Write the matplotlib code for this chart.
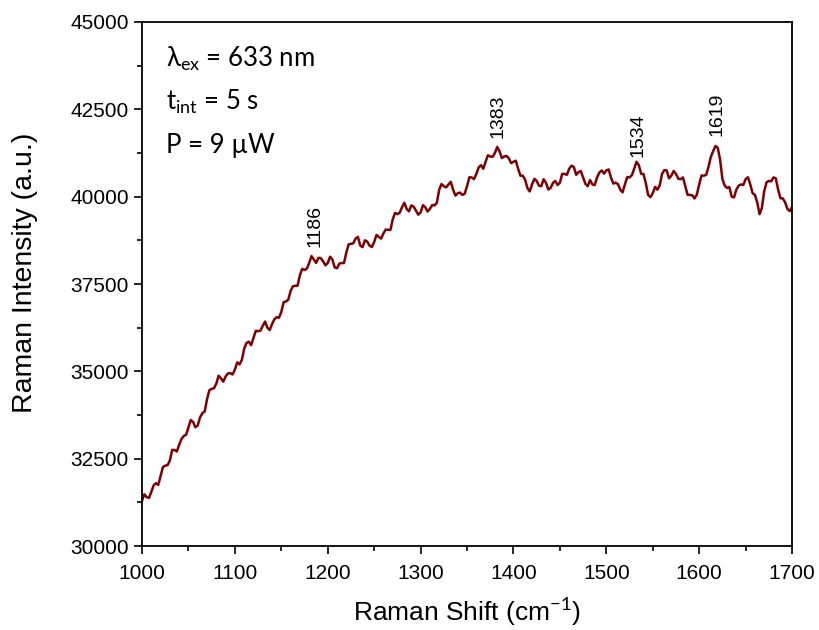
import numpy as np
import matplotlib.pyplot as plt
from matplotlib.ticker import MultipleLocator

# Raman spectrum, every 2.5 cm-1 from 1000 to 1700
shift = np.linspace(1000, 1700, 281)
intensity = [
    31300, 31480, 31400, 31375, 31550, 31735, 31800, 31750, 32000, 32260,
    32300, 32315, 32450, 32750, 32750, 32705, 32900, 33065, 33150, 33185,
    33400, 33605, 33550, 33400, 33450, 33685, 33800, 33850, 34200, 34460,
    34500, 34515, 34650, 34875, 34800, 34705, 34850, 34940, 34950, 34910,
    35050, 35255, 35200, 35325, 35650, 35810, 35850, 35750, 35950, 36160,
    36150, 36165, 36300, 36425, 36250, 36180, 36350, 36490, 36550, 36535,
    36700, 36980, 37000, 37050, 37300, 37435, 37450, 37450, 37750, 37935,
    37900, 37940, 38100, 38300, 38200, 38105, 38250, 38240, 38150, 38035,
    38100, 38280, 38200, 37975, 37950, 38085, 38100, 38100, 38400, 38635,
    38650, 38665, 38800, 38850, 38600, 38555, 38750, 38715, 38600, 38560,
    38700, 38905, 38850, 38800, 38950, 39060, 39050, 39050, 39350, 39535,
    39500, 39540, 39700, 39825, 39650, 39580, 39750, 39715, 39600, 39485,
    39550, 39755, 39700, 39575, 39650, 39760, 39750, 39825, 40200, 40360,
    40300, 40265, 40350, 40425, 40200, 40030, 40100, 40115, 40050, 40085,
    40300, 40555, 40550, 40500, 40650, 40835, 40900, 40800, 41000, 41185,
    41150, 41140, 41250, 41425, 41300, 41105, 41150, 41165, 41100, 40960,
    41000, 41030, 40800, 40600, 40600, 40485, 40250, 40150, 40350, 40510,
    40450, 40315, 40300, 40500, 40400, 40205, 40250, 40390, 40450, 40335,
    40400, 40655, 40650, 40625, 40800, 40885, 40850, 40625, 40700, 40735,
    40550, 40365, 40300, 40475, 40350, 40330, 40550, 40690, 40750, 40660,
    40750, 40780, 40550, 40375, 40400, 40360, 40200, 40125, 40350, 40560,
    40550, 40615, 40800, 41000, 40900, 40655, 40650, 40390, 40050, 39985,
    40100, 40280, 40200, 40325, 40650, 40760, 40750, 40525, 40600, 40735,
    40650, 40515, 40500, 40550, 40300, 40055, 40050, 40040, 39950, 40060,
    40350, 40605, 40600, 40625, 40850, 41135, 41300, 41450, 41400, 41060,
    40500, 40315, 40250, 40275, 40000, 39980, 40200, 40315, 40350, 40335,
    40500, 40555, 40350, 40100, 40050, 39835, 39500, 39675, 40150, 40410,
    40450, 40440, 40550, 40525, 40200, 39955, 39950, 39840, 39650, 39585,
    39700,
]

peak_pos = [1186, 1383, 1534, 1619]
peak_y = [38570, 41680, 41145, 41740]

info_lines = [r"$\mathregular{\lambda_{ex}}$ = 633 nm",
              r"$\mathregular{t_{int}}$ = 5 s",
              "P = 9 \u00b5W"]

plt.rcParams['font.family'] = ['Liberation Sans', 'DejaVu Sans']
plt.rcParams['mathtext.fontset'] = 'custom'
plt.rcParams['mathtext.rm'] = 'Lato'

fig = plt.figure(figsize=(8.19, 6.3), dpi=100)
ax = fig.add_axes([0.1734, 0.1333, 0.7937, 0.8318])

ax.plot(shift, intensity, color="#7f0000", linewidth=1.8)

for p, y in zip(peak_pos, peak_y):
    ax.text(p, y, str(p), rotation=90, ha="center", va="bottom", fontsize=14)

for i, line in enumerate(info_lines):
    ax.text(0.037, 0.915 - i * 0.0825, line, transform=ax.transAxes,
            fontsize=18.5, family=['Lato', 'DejaVu Sans'], va="baseline")

ax.set_xlim(1000, 1700)
ax.set_ylim(30000, 45000)
ax.xaxis.set_major_locator(MultipleLocator(100))
ax.xaxis.set_minor_locator(MultipleLocator(50))
ax.yaxis.set_major_locator(MultipleLocator(2500))
ax.yaxis.set_minor_locator(MultipleLocator(1250))
ax.tick_params(which="both", direction="out", width=1.2, top=False, right=False)
ax.tick_params(which="major", length=6)
ax.tick_params(which="minor", length=3.5)
ax.tick_params(axis="both", labelsize=15)
ax.tick_params(axis="x", pad=7)
for s in ax.spines.values():
    s.set_linewidth(1.3)

ax.set_xlabel("Raman Shift (cm$^{-1}$)", fontsize=19, labelpad=8)
ax.set_ylabel("Raman Intensity (a.u.)", fontsize=20.5)
ax.yaxis.set_label_coords(-0.16, 0.522)

fig.savefig("out.png", dpi=100)
